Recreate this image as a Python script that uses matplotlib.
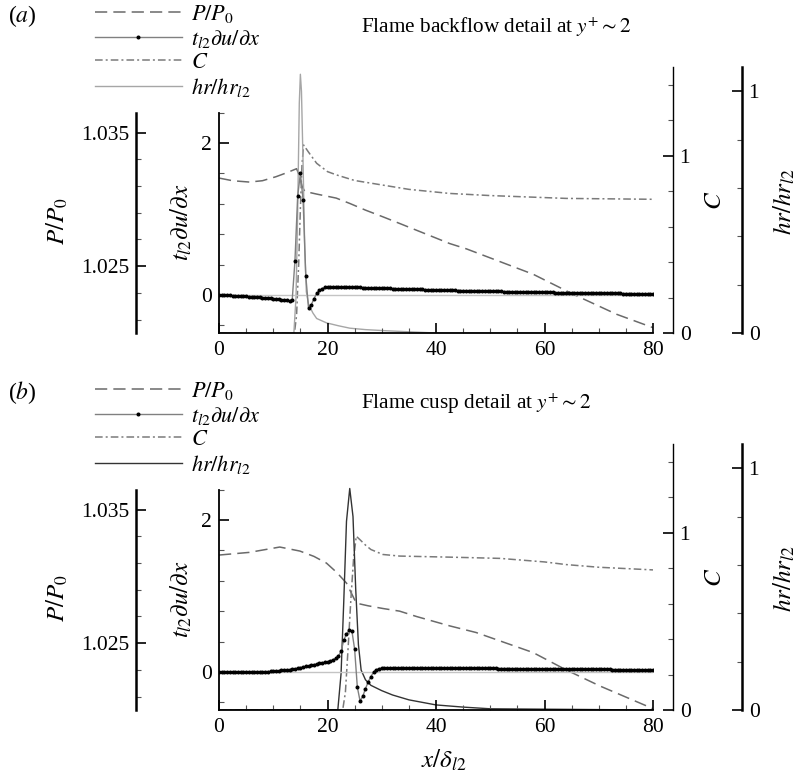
import numpy as np
import matplotlib
matplotlib.use("Agg")
import matplotlib.pyplot as plt
from matplotlib.ticker import MultipleLocator, FixedLocator

plt.rcParams['font.family'] = 'serif'
plt.rcParams['font.serif'] = ['Liberation Serif', 'DejaVu Serif']
plt.rcParams['mathtext.fontset'] = 'stix'

W, H = 800, 774

# strain rate samples are on a 0.5 grid in x/delta_l2
x_t = np.arange(0, 80.5, 0.5)

# ---- panel (a): flame backflow ----
t_a = [
    0.000, 0.000, -0.002, -0.004, -0.006, -0.008, -0.010, -0.012, -0.014, -0.016,
    -0.018, -0.020, -0.022, -0.025, -0.028, -0.031, -0.034, -0.037, -0.040, -0.044,
    -0.048, -0.052, -0.056, -0.060, -0.065, -0.070, -0.075, -0.060, 0.450, 1.300,
    1.600, 1.250, 0.250, -0.170, -0.130, -0.050, 0.020, 0.060, 0.085, 0.100,
    0.105, 0.110, 0.110, 0.110, 0.110, 0.109, 0.108, 0.106, 0.105, 0.103,
    0.102, 0.100, 0.099, 0.098, 0.097, 0.096, 0.095, 0.094, 0.093, 0.092,
    0.090, 0.089, 0.088, 0.086, 0.085, 0.084, 0.083, 0.081, 0.080, 0.079,
    0.078, 0.077, 0.076, 0.075, 0.074, 0.073, 0.071, 0.070, 0.069, 0.068,
    0.066, 0.065, 0.064, 0.063, 0.062, 0.061, 0.061, 0.060, 0.059, 0.058,
    0.057, 0.056, 0.055, 0.055, 0.054, 0.053, 0.052, 0.052, 0.051, 0.050,
    0.050, 0.049, 0.048, 0.047, 0.047, 0.046, 0.045, 0.044, 0.044, 0.043,
    0.042, 0.041, 0.041, 0.040, 0.039, 0.038, 0.038, 0.037, 0.036, 0.036,
    0.035, 0.034, 0.034, 0.033, 0.032, 0.032, 0.031, 0.030, 0.030, 0.029,
    0.029, 0.028, 0.028, 0.027, 0.027, 0.026, 0.026, 0.025, 0.025, 0.024,
    0.024, 0.023, 0.023, 0.022, 0.022, 0.021, 0.021, 0.020, 0.020, 0.019,
    0.019, 0.019, 0.018, 0.018, 0.017, 0.017, 0.017, 0.016, 0.016, 0.016,
    0.015]
p_x_a = [0, 2.5, 5.6, 8, 10.5, 12.5, 14.3, 14.8, 15.3, 15.8, 18, 21.6, 24.1,
         27, 30.2, 33.3, 42.5, 45.6, 57.9, 65.3, 73.3, 80]
p_a = [1.0316, 1.0314, 1.0313, 1.0314, 1.0317, 1.0320, 1.0323, 1.0318, 1.0310,
       1.0306, 1.0304, 1.0301, 1.0297, 1.0292, 1.0287, 1.0282, 1.0267, 1.0263,
       1.0244, 1.0229, 1.0214, 1.0204]
c_x_a = [0, 13.9, 14.3, 14.7, 15.0, 15.3, 15.6, 16.5, 18, 20, 21.7, 25, 30.2,
         35, 42.5, 50, 64, 80]
c_a = [0, 0, 0.1, 0.4, 0.7, 0.95, 1.06, 1.02, 0.957, 0.91, 0.891, 0.86, 0.834,
       0.81, 0.787, 0.775, 0.759, 0.754]
hr_x_a = [0, 13.8, 14.2, 14.5, 14.8, 15.0, 15.2, 15.5, 15.8, 16.1, 16.5, 17.3,
          18, 19.8, 22, 24.1, 27, 30.2, 35, 40, 80]
hr_a = [0, 0, 0.15, 0.5, 0.95, 1.07, 1.0, 0.7, 0.35, 0.17, 0.12, 0.083, 0.06,
        0.042, 0.03, 0.02, 0.014, 0.01, 0.005, 0.0, 0.0]

# ---- panel (b): flame cusp ----
t_b = [
    0.000, 0.000, 0.000, 0.000, 0.000, 0.000, 0.000, 0.000, 0.000, 0.000,
    0.000, 0.000, 0.001, 0.001, 0.002, 0.002, 0.003, 0.004, 0.005, 0.007,
    0.010, 0.013, 0.016, 0.020, 0.024, 0.028, 0.032, 0.037, 0.042, 0.050,
    0.058, 0.066, 0.074, 0.082, 0.090, 0.098, 0.106, 0.114, 0.120, 0.128,
    0.135, 0.145, 0.160, 0.180, 0.210, 0.270, 0.420, 0.500, 0.550, 0.540,
    0.300, -0.200, -0.380, -0.320, -0.220, -0.130, -0.060, 0.000, 0.030, 0.045,
    0.050, 0.052, 0.053, 0.053, 0.053, 0.053, 0.053, 0.053, 0.053, 0.053,
    0.053, 0.053, 0.053, 0.052, 0.052, 0.052, 0.052, 0.052, 0.052, 0.052,
    0.052, 0.052, 0.051, 0.051, 0.051, 0.051, 0.051, 0.050, 0.050, 0.050,
    0.050, 0.050, 0.049, 0.049, 0.049, 0.049, 0.048, 0.048, 0.048, 0.048,
    0.047, 0.047, 0.047, 0.046, 0.046, 0.046, 0.045, 0.045, 0.045, 0.044,
    0.044, 0.044, 0.043, 0.043, 0.043, 0.042, 0.042, 0.042, 0.041, 0.041,
    0.041, 0.040, 0.040, 0.040, 0.039, 0.039, 0.039, 0.038, 0.038, 0.038,
    0.037, 0.037, 0.037, 0.036, 0.036, 0.036, 0.035, 0.035, 0.035, 0.034,
    0.034, 0.034, 0.033, 0.033, 0.033, 0.032, 0.032, 0.032, 0.031, 0.031,
    0.031, 0.031, 0.030, 0.030, 0.030, 0.030, 0.029, 0.029, 0.029, 0.029,
    0.028]
p_x_b = [0, 5.6, 11.2, 14.9, 17.5, 19.8, 21.7, 23.5, 25.3, 27.5, 30.2, 33.3,
         36.4, 42.5, 47.4, 57.9, 64, 70.2, 80]
p_b = [1.0316, 1.0318, 1.0322, 1.0319, 1.0315, 1.0310, 1.0303, 1.0295, 1.0280,
       1.0278, 1.0276, 1.0274, 1.0270, 1.0263, 1.0258, 1.0243, 1.0230, 1.0218,
       1.0201]
c_x_b = [0, 22.8, 23.3, 23.8, 24.3, 24.8, 25.3, 26, 27, 28, 30.2, 33.3, 42.5,
         51.8, 60, 64, 70, 80]
c_b = [0, 0, 0.1, 0.35, 0.62, 0.85, 0.98, 0.96, 0.93, 0.905, 0.877, 0.868,
       0.862, 0.855, 0.835, 0.82, 0.805, 0.79]
hr_x_b = [0, 21.9, 22.5, 23.0, 23.5, 24.1, 24.7, 25.2, 25.7, 26.2, 27, 28,
          30, 32, 35, 40, 45, 50, 80]
hr_b = [0, 0, 0.15, 0.45, 0.78, 0.916, 0.8, 0.5, 0.27, 0.165, 0.125, 0.102,
        0.08, 0.062, 0.042, 0.021, 0.012, 0.005, 0.0]

p_ticks = [1.025, 1.035]
p_minor = [1.021, 1.023, 1.027, 1.029, 1.031, 1.033]


def rect(left, top, right, bottom):
    return [left / W, 1 - bottom / H, (right - left) / W, (bottom - top) / H]


def style_y(ax, side, lw):
    for s in ax.spines.values():
        s.set_visible(False)
    ax.spines[side].set_visible(True)
    ax.spines[side].set_linewidth(lw)
    ax.patch.set_visible(False)
    ax.xaxis.set_visible(False)
    if side == 'right':
        ax.yaxis.tick_right()
    ax.tick_params(axis='y', which='both', direction='in', labelsize=15.5, pad=5)
    ax.tick_params(axis='y', which='major', length=7, width=1.2)
    ax.tick_params(axis='y', which='minor', length=3.5, width=0.8, color='#555555')


def draw_panel(fig, dy, tag, title, t, px, p, cx, c, hx, hr, hr_color):
    x0, x1 = 219, 653
    bot = 333 + dy
    span = x1 - x0

    ax_p = fig.add_axes(rect(x0, 112.6 + dy, x1, bot))
    ax_c = fig.add_axes(rect(x0, 67 + dy, x1, bot))
    ax_h = fig.add_axes(rect(x0, 67 + dy, x1, bot))
    ax = fig.add_axes(rect(x0, 112.6 + dy, x1, bot))

    # pressure axis, far left
    lp, = ax_p.plot(px, p, color='#6a6a6a', lw=1.1, dashes=(8, 4), label=r'$P/P_0$')
    ax_p.set_xlim(0, 80)
    ax_p.set_ylim(1.0200, 1.0365)
    style_y(ax_p, 'left', 1.8)
    ax_p.spines['left'].set_position(('axes', (136 - x0) / span))
    ax_p.yaxis.set_major_locator(FixedLocator(p_ticks))
    ax_p.yaxis.set_minor_locator(FixedLocator(p_minor))
    ax_p.set_yticklabels(['1.025', '1.035'])

    # progress variable
    lc, = ax_c.plot(cx, c, color='#7a7a7a', lw=1.1, dashes=(5, 2, 1.3, 2), label=r'$C$')
    ax_c.set_xlim(0, 80)
    ax_c.set_ylim(0, 1.5)
    style_y(ax_c, 'right', 1.0)
    ax_c.spines['right'].set_position(('axes', (672.7 - x0) / span))
    ax_c.yaxis.set_major_locator(MultipleLocator(1))
    ax_c.yaxis.set_minor_locator(MultipleLocator(0.2))

    # heat release
    lh, = ax_h.plot(hx, hr, color=hr_color, lw=1.0, label=r'$hr/hr_{l2}$')
    ax_h.set_xlim(0, 80)
    ax_h.set_ylim(0, 1.1)
    style_y(ax_h, 'right', 1.8)
    ax_h.spines['right'].set_position(('axes', (741.7 - x0) / span))
    ax_h.yaxis.set_major_locator(MultipleLocator(1))
    ax_h.yaxis.set_minor_locator(MultipleLocator(0.2))

    # strain rate, main axes
    ax.axhline(0, color='#c4c4c4', lw=1.0, zorder=1)
    lt, = ax.plot(x_t, t, color='#808080', lw=1.0, marker='o', markersize=1.9,
                  markerfacecolor='black', markeredgecolor='black',
                  label=r'$t_{l2}\partial u/\partial x$', zorder=3)
    ax.set_xlim(0, 80)
    ax.set_ylim(-0.5, 2.4)
    ax.patch.set_visible(False)
    ax.spines['top'].set_visible(False)
    ax.spines['right'].set_visible(False)
    ax.spines['left'].set_linewidth(1.3)
    ax.spines['bottom'].set_linewidth(1.3)
    ax.xaxis.set_major_locator(MultipleLocator(20))
    ax.xaxis.set_minor_locator(MultipleLocator(5))
    ax.yaxis.set_major_locator(MultipleLocator(2))
    ax.yaxis.set_minor_locator(MultipleLocator(0.4))
    ax.tick_params(which='both', direction='in', labelsize=15.5)
    ax.tick_params(which='major', length=7, width=1.2)
    ax.tick_params(which='minor', length=3.5, width=0.8, color='#555555')
    ax.tick_params(axis='x', pad=6)
    ax.tick_params(axis='y', pad=5)

    def ftxt(x, y, s, **kw):
        fig.text(x / W, 1 - (y + dy) / H, s, **kw)

    ftxt(57, 221, r'$P/P_0$', rotation=90, ha='center', va='center', fontsize=18)
    ftxt(181, 222, r'$t_{l2}\partial u/\partial x$', rotation=90, ha='center',
         va='center', fontsize=18)
    ftxt(715, 200, r'$C$', rotation=90, ha='center', va='center', fontsize=18)
    ftxt(784, 202, r'$hr/hr_{l2}$', rotation=90, ha='center', va='center', fontsize=18)
    ftxt(8, 16, '(' + r'$' + tag + r'$' + ')', ha='left', va='center', fontsize=17)
    ftxt(361, 27, title, ha='left', va='center', fontsize=15.3)

    fig.legend([lp, lt, lc, lh], [l.get_label() for l in (lp, lt, lc, lh)],
               loc='upper left', bbox_to_anchor=(95 / W, 1 - (3 + dy) / H),
               frameon=False, fontsize=16, handlelength=3.9, handletextpad=0.4,
               labelspacing=0.12, borderaxespad=0, borderpad=0, numpoints=1)
    return ax


fig = plt.figure(figsize=(W / 100, H / 100), dpi=100)

draw_panel(fig, 0, 'a', r'Flame backflow detail at $y^{+}\sim 2$',
           t_a, p_x_a, p_a, c_x_a, c_a, hr_x_a, hr_a, '#a6a6a6')
draw_panel(fig, 377, 'b', r'Flame cusp detail at $y^{+}\sim 2$',
           t_b, p_x_b, p_b, c_x_b, c_b, hr_x_b, hr_b, '#333333')

fig.text(444 / W, 1 - 760 / H, r'$x/\delta_{l2}$', ha='center', va='center', fontsize=18)

fig.savefig('out.png', dpi=100)
